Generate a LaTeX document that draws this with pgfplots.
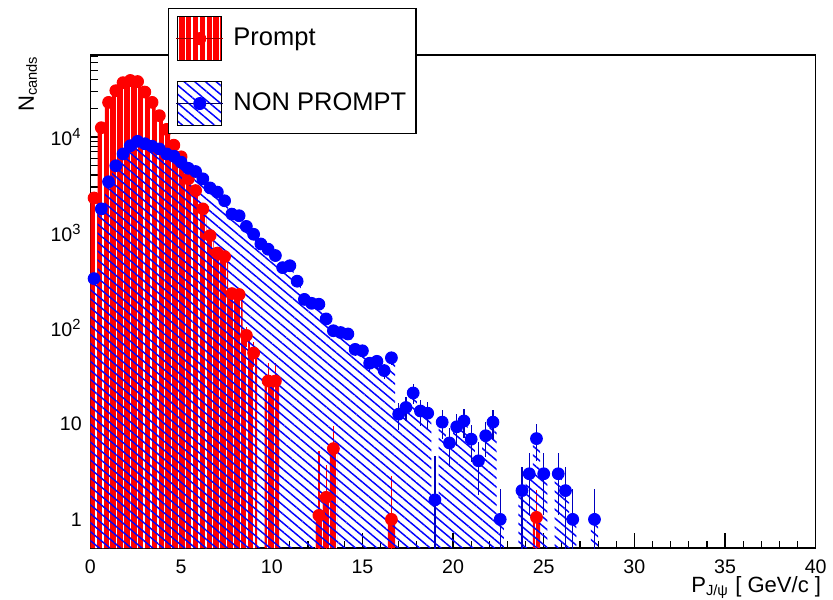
\documentclass[border=0pt]{standalone}
\usepackage{fontspec}
\setmainfont{Liberation Sans}
\usepackage{pgfplots}
\pgfplotsset{compat=1.18}
\usepackage{pgfplotstable}
\usetikzlibrary{patterns.meta}

\pgfplotstableread{
x y ep em
0.2 2300 105 105
0.6 12500 246 246
1.0 23000 334 334
1.4 30500 384 384
1.8 37000 423 423
2.2 39000 434 434
2.6 38000 429 429
3.0 29500 378 378
3.4 23000 334 334
3.8 16700 284 284
4.2 12000 241 241
4.6 8200 199 199
5.0 6200 173 173
5.4 3650 133 133
5.8 2750 115 115
6.2 1770 93 93
6.6 930 67 67
7.0 610 54 54
7.4 560 52 52
7.8 230 33 33
8.2 225 33 33
8.6 84 20 20
9.0 55 16 16
9.8 28 15 15
10.2 28 15 15
12.6 1.1 4.1 1.09
13.0 1.7 2.0 1.69
13.4 5.5 4.0 4.0
16.6 1.0 1.84 0.99
24.6 1.05 1.0 1.04
}\prompt

\pgfplotstableread{
x y ep em
0.2 330 20 20
0.6 1770 46 46
1.0 3400 64 64
1.4 5000 78 78
1.8 6650 90 90
2.2 8100 99 99
2.6 9000 104 104
3.0 8500 101 101
3.4 8000 98 98
3.8 7500 95 95
4.2 6650 90 90
4.6 6300 87 87
5.0 5450 81 81
5.4 4700 75 75
5.8 4350 73 73
6.2 3650 66 66
6.6 2930 60 60
7.0 2650 57 57
7.4 2150 51 51
7.8 1560 43 43
8.2 1500 43 43
8.6 1160 37 37
9.0 960 34 34
9.4 760 30 30
9.8 670 28 28
10.2 575 26 26
10.6 430 23 23
11.0 450 23 23
11.4 310 19 19
11.8 200 16 16
12.2 182 15 15
12.6 178 15 15
13.0 125 12 12
13.4 94 11 11
13.8 90 10 10
14.2 87 10 10
14.6 60 8.5 8.5
15.0 58 8.4 8.4
15.4 43 7.2 7.2
15.8 45 7.4 7.4
16.2 36 6.6 6.6
16.6 49 7.7 7.7
17.0 12.6 3.9 3.9
17.4 14.8 4.2 4.2
17.8 21 5.0 5.0
18.2 13.6 4.1 4.1
18.6 12.9 4.0 4.0
19.0 1.6 3.0 1.59
19.4 10.4 3.5 3.5
19.8 6.3 2.8 2.8
20.2 9.3 3.4 3.4
20.6 10.7 3.6 3.6
21.0 6.9 2.9 2.9
21.4 4.1 2.3 2.3
21.8 7.5 3.0 3.0
22.2 10.4 3.5 3.5
22.6 1.0 1.06 0.99
23.8 2.0 1.55 1.55
24.2 3.0 1.9 1.9
24.6 7.0 2.9 2.9
25.0 3.0 1.9 1.9
25.8 3.0 1.9 1.9
26.2 2.0 1.55 1.55
26.6 1.0 1.06 0.99
27.8 1.0 1.06 0.99
}\nonprompt

\tikzset{
  redpat/.style={pattern={Lines[angle=90,distance=2.8pt,line width=0.55pt]}, pattern color=white},
  bluepat/.style={pattern={Lines[angle=-40,distance=2.8pt,line width=0.6pt]}, pattern color=blue},
}

\begin{document}
\begin{tikzpicture}
\begin{axis}[name=ax, scale only axis, width=295.9pt, height=201.2pt,
  xmin=0, xmax=40, ymode=log, ymin=0.5, ymax=72000, log origin=infty,
  xtick={0,5,...,40}, minor x tick num=4,
  ytick={1,10,100,1000,10000},
  yticklabels={1,10,10\textsuperscript{2},10\textsuperscript{3},10\textsuperscript{4}},
  minor ytick={0.6,0.7,0.8,0.9,2,3,4,5,6,7,8,9,20,30,40,50,60,70,80,90,200,300,400,500,600,700,800,900,2000,3000,4000,5000,6000,7000,8000,9000,20000,30000,40000,50000,60000,70000},
  tick pos=left, tick align=inside,
  major tick length=6pt, minor tick length=3pt,
  tick style={black, line width=0.5pt},
  axis line style={black, line width=0.6pt},
  /pgf/number format/assume math mode=true,
  xticklabel style={font=\fontsize{8}{10}\selectfont, yshift=-1.2pt},
  yticklabel style={font=\fontsize{8}{10}\selectfont},
  xlabel={P\textsubscript{J/ψ} [ GeV/c ]},
  ylabel={N\textsubscript{cands}},
  every axis x label/.style={at={(axis description cs:1,0)}, anchor=north east, inner sep=0pt, xshift=2.4pt, yshift=-11.5pt, font=\fontsize{9}{11}\selectfont},
  every axis y label/.style={at={(axis description cs:-0.0862,1)}, rotate=90, anchor=east, inner sep=0pt, font=\fontsize{9}{11}\selectfont},
  legend style={at={(0.1068,1.0954)}, anchor=north west, draw=black, fill=white, line width=0.5pt,
    font=\fontsize{10.4}{12}\selectfont, inner xsep=3pt, inner ysep=3pt, row sep=8pt,
    nodes={inner sep=1pt}, column sep=3pt},
  legend cell align=left,
]
% Prompt histogram (red, vertical lines)
\addplot[forget plot, ybar, bar width=0.4, bar shift=0pt, fill=red, draw=none, postaction={redpat}]
  table[x=x, y=y] {\prompt};
\addplot[forget plot, only marks, mark=*, mark size=2.4pt, color=red,
  error bars/.cd, y dir=both, y explicit, error mark=none, error bar style={line width=0.5pt, red}]
  table[x=x, y=y, y error plus=ep, y error minus=em] {\prompt};
% Non-prompt histogram (blue hatch)
\addplot[forget plot, ybar, bar width=0.4, bar shift=0pt, draw=none, bluepat]
  table[x=x, y=y] {\nonprompt};
\addplot[forget plot, only marks, mark=*, mark size=2.4pt, color=blue,
  error bars/.cd, y dir=both, y explicit, error mark=none, error bar style={line width=0.5pt, blue!75!black}]
  table[x=x, y=y, y error plus=ep, y error minus=em] {\nonprompt};

\addlegendimage{legend image code/.code={
  \fill[red] (0pt,-9pt) rectangle (18pt,9pt);
  \path[redpat] (0pt,-9pt) rectangle (18pt,9pt);
  \draw[red!60!black, line width=0.5pt] (-0.5pt,0pt) -- (18.5pt,0pt);
  \draw plot[only marks, mark=*, mark size=2.4pt, mark options={red, fill=red}] coordinates {(9pt,0pt)};
}}
\addlegendentry{Prompt}
\addlegendimage{legend image code/.code={
  \path[bluepat] (0pt,-9pt) rectangle (18pt,9pt);
  \draw[blue!40!black, line width=0.5pt] (-0.5pt,0pt) -- (18.5pt,0pt);
  \draw plot[only marks, mark=*, mark size=2.4pt, mark options={blue, fill=blue}] coordinates {(9pt,0pt)};
}}
\addlegendentry{NON PROMPT}
\end{axis}
\pgfresetboundingbox
\path[use as bounding box] ([shift={(-36.9pt,-20.8pt)}]ax.south west) rectangle ([shift={(7.06pt,22.45pt)}]ax.north east);
\end{tikzpicture}
\end{document}
